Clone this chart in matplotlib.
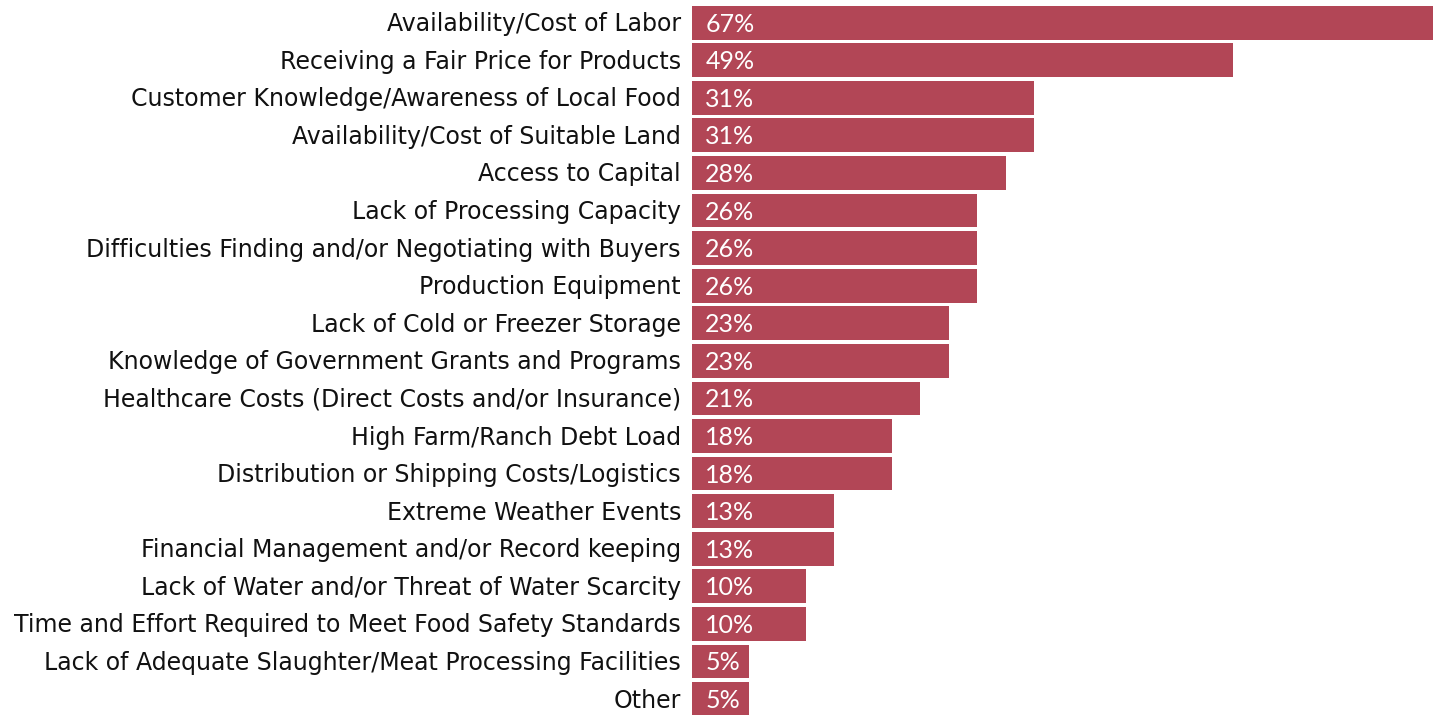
import matplotlib
matplotlib.use("Agg")
import matplotlib.pyplot as plt

# challenges, ordered top to bottom
labels = [
    "Availability/Cost of Labor",
    "Receiving a Fair Price for Products",
    "Customer Knowledge/Awareness of Local Food",
    "Availability/Cost of Suitable Land",
    "Access to Capital",
    "Lack of Processing Capacity",
    "Difficulties Finding and/or Negotiating with Buyers",
    "Production Equipment",
    "Lack of Cold or Freezer Storage",
    "Knowledge of Government Grants and Programs",
    "Healthcare Costs (Direct Costs and/or Insurance)",
    "High Farm/Ranch Debt Load",
    "Distribution or Shipping Costs/Logistics",
    "Extreme Weather Events",
    "Financial Management and/or Record keeping",
    "Lack of Water and/or Threat of Water Scarcity",
    "Time and Effort Required to Meet Food Safety Standards",
    "Lack of Adequate Slaughter/Meat Processing Facilities",
    "Other",
]
values = [66.67, 48.72, 30.77, 30.77, 28.21, 25.64, 25.64, 25.64, 23.08, 23.08,
          20.51, 17.95, 17.95, 12.82, 12.82, 10.26, 10.26, 5.13, 5.13]

BAR = "#b24656"
W, H = 1437, 715

fig = plt.figure(figsize=(W / 100, H / 100), dpi=100)
ax = fig.add_axes([692 / W, 1 - 717.8 / H, 741 / W, 713.9 / H])

ypos = list(range(len(labels)))
ax.barh(ypos, values, height=0.9, color=BAR, edgecolor="none")

for y, v in zip(ypos, values):
    ax.text(1.2, y + 0.04, f"{round(v)}%", ha="left", va="center",
            color="white", fontsize=18, family="Lato")
    ax.text(-1.0, y + 0.04, labels[y], ha="right", va="center",
            color="#111111", fontsize=17, family="DejaVu Sans")

ax.set_xlim(0, max(values))
ax.set_ylim(len(labels) - 0.5, -0.5)
ax.axis("off")

fig.savefig("out.png", dpi=100)
